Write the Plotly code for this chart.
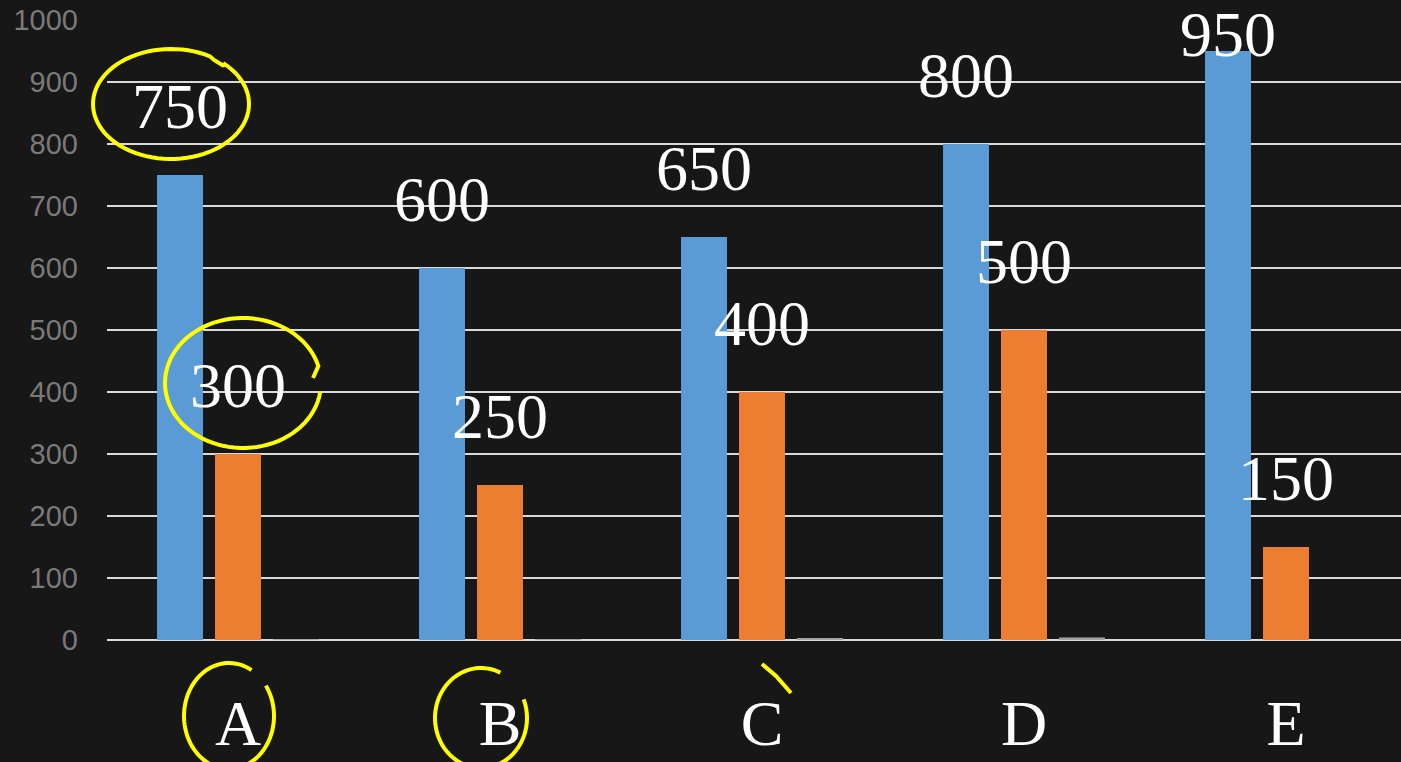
import math
import plotly.graph_objects as go

# ---- data ----
categories = ["A", "B", "C", "D", "E"]
series1 = [750, 600, 650, 800, 950]   # blue
series2 = [300, 250, 400, 500, 150]   # orange
series3 = [1, 1, 2, 4, 0]             # gray (near zero)
y_ticks = [0, 100, 200, 300, 400, 500, 600, 700, 800, 900, 1000]

# ---- style ----
W, H = 1401, 762
ML, MT, MB, MR = 107, 20, 122, 0
PW, PH = W - ML - MR, H - MT - MB
CAT_PX = 262.0
x_hi = -0.5 + PW / CAT_PX
BLUE, ORANGE, GRAY = "#5b9bd5", "#ed7d31", "#a5a5a5"
BG = "#171717"
SERIF = "Liberation Serif, Times New Roman, serif"
YELLOW = "#ffff00"

fig = go.Figure()
for vals, col, name in [(series1, BLUE, "S1"), (series2, ORANGE, "S2"), (series3, GRAY, "S3")]:
    fig.add_trace(go.Bar(x=categories, y=vals, marker=dict(color=col, line=dict(width=0)),
                         name=name, showlegend=False, hoverinfo="x+y"))

# value labels (serif, white), placed above bars
annotations = []
px_per_unit = PH / 1000.0
for vals, xshift in [(series1, -58), (series2, 0)]:
    for c, v in zip(categories, vals):
        top_px = v * px_per_unit
        shift = 69 if top_px + 69 <= PH else 17
        annotations.append(dict(x=c, y=v, xref="x", yref="y", text=str(v), showarrow=False,
                                xshift=xshift, yshift=shift, yanchor="middle",
                                font=dict(family=SERIF, size=64, color="white")))

# hand-drawn yellow marks (pixel -> paper conversion)
def to_paper(px, py):
    return (px - ML) / PW, (MT + PH - py) / PH

def arc_path(cx, cy, rx, ry, a0, a1, n=80, extra=None):
    pts = []
    for i in range(n + 1):
        a = math.radians(a0 + (a1 - a0) * i / n)
        pts.append(to_paper(cx + rx * math.cos(a), cy + ry * math.sin(a)))
    if extra:
        pts += [to_paper(*p) for p in extra]
    return "M " + " L ".join(f"{x:.5f},{y:.5f}" for x, y in pts)

shapes = []
marks = [
    arc_path(171, 104, 78, 55, -48, 300, extra=[(214, 60), (224, 66)]),
    arc_path(243, 383, 78, 65, 8, 345, extra=[(313, 378)]),
    arc_path(229, 716, 45, 53, -35, 300),
    arc_path(481, 718, 46, 50, -22, 295),
    "M " + " L ".join(f"{x:.5f},{y:.5f}" for x, y in [to_paper(762, 664), to_paper(776, 676), to_paper(791, 693)]),
]
for p in marks:
    shapes.append(dict(type="path", path=p, xref="paper", yref="paper",
                       line=dict(color=YELLOW, width=4), layer="above"))

fig.update_layout(
    width=W, height=H,
    margin=dict(l=ML, r=MR, t=MT, b=MB, pad=0),
    paper_bgcolor=BG, plot_bgcolor=BG,
    barmode="group", bargap=0.336, bargroupgap=0.207,
    annotations=annotations, shapes=shapes,
    xaxis=dict(range=[-0.5, x_hi], showgrid=False, zeroline=False, showline=False, ticks="",
               tickfont=dict(family=SERIF, size=64, color="white"), ticklabelstandoff=40,
               fixedrange=True),
    yaxis=dict(range=[0, 1000], tickvals=y_ticks, showgrid=True, gridcolor="#d9d9d9", gridwidth=2,
               zeroline=True, zerolinecolor="#d9d9d9", zerolinewidth=2, showline=False, ticks="",
               tickfont=dict(family="Liberation Sans, Arial, sans-serif", size=29, color="#7a7a7a"),
               ticklabelstandoff=28, fixedrange=True),
)

fig.write_html("out.html", config={"displayModeBar": False})
